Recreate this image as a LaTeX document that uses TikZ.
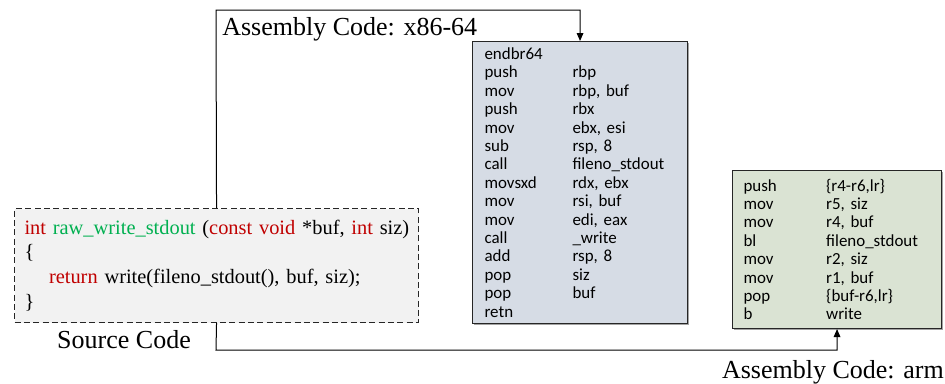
\documentclass[tikz,border=0pt]{standalone}
\usepackage{fontspec}
\setmainfont{Liberation Serif}
\newfontfamily\asmfont{Carlito}
\usetikzlibrary{arrows.meta,shadows}

\definecolor{kwred}{HTML}{C00000}
\definecolor{fngreen}{HTML}{00B050}
\definecolor{srcfill}{HTML}{F2F2F2}
\definecolor{x86fill}{HTML}{D6DCE5}
\definecolor{armfill}{HTML}{DAE3D3}

\tikzset{
  srcbox/.style={draw=black!85, dash pattern=on 4.5pt off 2.5pt, thick, fill=srcfill, anchor=north west,
    inner xsep=7.5pt, text width=288pt, minimum height=85.5pt, align=left,
    font=\fontsize{15.3}{18.6}\selectfont},
  asmbox/.style={draw=black!85, thick, anchor=north west, align=left,
    drop shadow={shadow xshift=1pt, shadow yshift=-1pt, fill=black!60, opacity=0.6},
    font=\asmfont\fontsize{12.7}{13.8}\selectfont},
  caption/.style={font=\fontsize{19.5}{22}\selectfont, inner sep=0pt},
  link/.style={-{Triangle[width=5pt,length=6pt]}, line width=0.75pt}
}

\newcommand{\kw}[1]{\textcolor{kwred}{#1}}
\newcommand{\op}[2]{\makebox[#1][l]{#2}}

\begin{document}
\begin{tikzpicture}[x=0.75pt, y=-0.75pt]

\useasboundingbox (0,0) rectangle (945,383);

% draw source code
\node (src) [srcbox] at (14,208) {%
\mbox{\kw{int} \textcolor{fngreen}{raw\_write\_stdout} (\kw{const void} *buf, \kw{int} siz)}\\
\{\\
\hspace*{1.2em}\kw{return} write(fileno\_stdout(), buf, siz);\\
\}};

% draw x86-64 assembly
\node (x86) [asmbox, fill=x86fill, inner xsep=9pt, text width=143.25pt, minimum height=211.5pt] at (472,41) {%
endbr64\\
\op{66pt}{push}rbp\\
\op{66pt}{mov}rbp, buf\\
\op{66pt}{push}rbx\\
\op{66pt}{mov}ebx, esi\\
\op{66pt}{sub}rsp, 8\\
\op{66pt}{call}fileno\_stdout\\
\op{66pt}{movsxd}rdx, ebx\\
\op{66pt}{mov}rsi, buf\\
\op{66pt}{mov}edi, eax\\
\op{66pt}{call}\_write\\
\op{66pt}{add}rsp, 8\\
\op{66pt}{pop}siz\\
\op{66pt}{pop}buf\\
retn};

% draw arm assembly
\node (arm) [asmbox, fill=armfill, inner xsep=8.25pt, text width=140.25pt, minimum height=118.5pt] at (732,170) {%
\op{62pt}{push}\{r4-r6,lr\}\\
\op{62pt}{mov}r5, siz\\
\op{62pt}{mov}r4, buf\\
\op{62pt}{bl}fileno\_stdout\\
\op{62pt}{mov}r2, siz\\
\op{62pt}{mov}r1, buf\\
\op{62pt}{pop}\{buf-r6,lr\}\\
\op{62pt}{b}write};

% draw connectors
\coordinate (topbend) at (216,10);
\coordinate (botbend) at (216,350);
\draw [link] (src.north) -- (topbend) -| (x86.north);
\draw [link] (src.south) -- (botbend) -| (arm.south);

% labels
\node (lblx86) [caption, anchor=base west] at (222,35) {Assembly Code: x86-64};
\node (lblsrc) [caption, anchor=base] at (124,348) {Source Code};
\node (lblarm) [caption, anchor=base east] at (944,378) {Assembly Code: arm};

\end{tikzpicture}
\end{document}
